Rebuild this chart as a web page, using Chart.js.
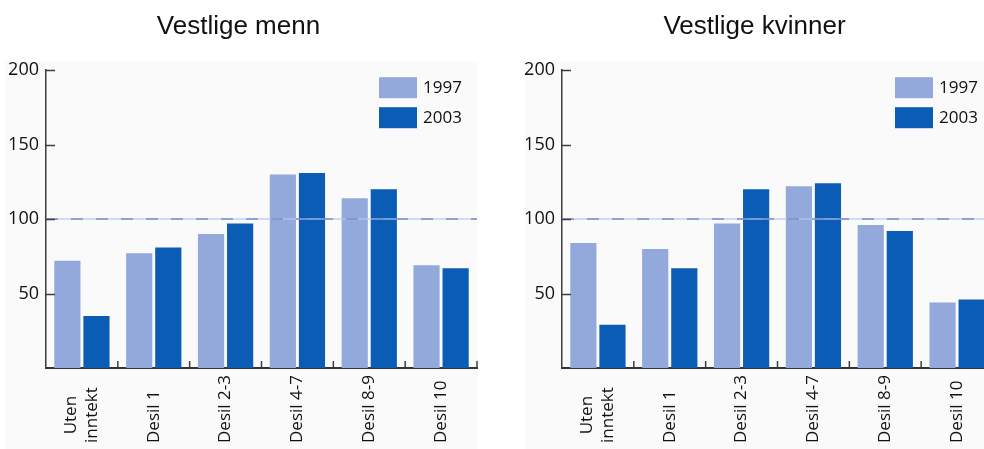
<!DOCTYPE html>
<html lang="no">
<head>
<meta charset="UTF-8">
<title>Vestlige menn / kvinner</title>
<script src="https://cdn.jsdelivr.net/npm/chart.js"></script>
<style>
    body { margin: 0; width: 984px; height: 449px; overflow: hidden; background: #fff; position: relative; }
    .panel { position: absolute; top: 62px; height: 387px; background: #fafafa; }
    canvas { position: absolute; top: 0; }
</style>
</head>
<body>
    <div class="panel" style="left:5px; width:473px"></div>
    <div class="panel" style="left:525px; width:459px"></div>
    <canvas id="menn" width="490" height="449" style="left:0"></canvas>
    <canvas id="kvinner" width="490" height="449" style="left:516px"></canvas>

<script>
    const kategorier = [['Uten', 'inntekt'], 'Desil 1', 'Desil 2-3', 'Desil 4-7', 'Desil 8-9', 'Desil 10'];
    const aar = ['1997', '2003'];
    const menn1997 = [72, 77, 90, 130, 114, 69];
    const menn2003 = [35, 81, 97, 131, 120, 67];
    const kvinner1997 = [84, 80, 97, 122, 96, 44];
    const kvinner2003 = [29, 67, 120, 124, 92, 46];
    const yTicks = [50, 100, 150, 200];
    const referanse = 100;

    const lys = '#93a8db';
    const mork = '#0a5cb4';
    const font = '"Open Sans", sans-serif';

    // dashed 100-line, inward ticks, rotated labels and legend
    const ekstra = {
        id: 'ekstra',
        afterDatasetsDraw(chart) {
            const ctx = chart.ctx, a = chart.chartArea, y = chart.scales.y;
            const py = y.getPixelForValue(referanse);
            ctx.save();
            ctx.lineWidth = 2;
            ctx.strokeStyle = 'rgba(180,200,238,0.6)';
            ctx.beginPath(); ctx.moveTo(a.left, py); ctx.lineTo(a.right, py); ctx.stroke();
            ctx.strokeStyle = 'rgba(120,135,195,0.7)';
            ctx.setLineDash([12, 13]);
            ctx.beginPath(); ctx.moveTo(a.left, py); ctx.lineTo(a.right, py); ctx.stroke();
            ctx.restore();
        },
        afterDraw(chart) {
            const ctx = chart.ctx, a = chart.chartArea, x = chart.scales.x, y = chart.scales.y;
            ctx.save();
            ctx.strokeStyle = '#3d3d3d';
            ctx.lineWidth = 1.5;
            yTicks.forEach(v => {
                const py = Math.round(y.getPixelForValue(v)) + 0.5;
                ctx.beginPath(); ctx.moveTo(a.left, py); ctx.lineTo(a.left + 9, py); ctx.stroke();
            });
            const n = chart.data.labels.length;
            for (let i = 0; i < n; i++) {
                const bx = i < n - 1 ? (x.getPixelForValue(i) + x.getPixelForValue(i + 1)) / 2 : a.right;
                ctx.beginPath(); ctx.moveTo(bx, a.bottom); ctx.lineTo(bx, a.bottom - 7); ctx.stroke();
            }

            // x labels, rotated, starting at the bottom
            ctx.fillStyle = '#111';
            ctx.font = '17px ' + font;
            ctx.textBaseline = 'middle';
            ctx.textAlign = 'left';
            chart.data.labels.forEach((lab, i) => {
                const lines = Array.isArray(lab) ? lab : [lab];
                const maxW = Math.max(...lines.map(l => ctx.measureText(l).width));
                ctx.save();
                ctx.translate(x.getPixelForValue(i), a.bottom + 75);
                ctx.rotate(-Math.PI / 2);
                lines.forEach((l, j) => {
                    const off = (j - (lines.length - 1) / 2) * 21;
                    ctx.fillText(l, (maxW - ctx.measureText(l).width) / 2, off);
                });
                ctx.restore();
            });

            // legend
            chart.data.datasets.forEach((ds, i) => {
                const lx = a.right - 98, ly = a.top + 7 + i * 30;
                ctx.fillStyle = ds.backgroundColor;
                ctx.fillRect(lx, ly, 38, 21);
                ctx.fillStyle = '#111';
                ctx.fillText(ds.label, lx + 44, ly + 11);
            });
            ctx.restore();
        }
    };

    function lagGraf(id, tittel, d1997, d2003) {
        return new Chart(document.getElementById(id), {
            type: 'bar',
            data: {
                labels: kategorier,
                datasets: [
                    { label: aar[0], data: d1997, backgroundColor: lys },
                    { label: aar[1], data: d2003, backgroundColor: mork }
                ]
            },
            options: {
                responsive: false,
                animation: false,
                categoryPercentage: 0.81,
                barPercentage: 0.9,
                layout: { padding: { left: 0, right: 13, top: 0, bottom: 0 } },
                plugins: {
                    legend: { display: false },
                    tooltip: { enabled: false },
                    title: {
                        display: true,
                        text: tittel,
                        color: '#111',
                        font: { family: '"Liberation Sans", Arial, sans-serif', size: 26, weight: 'normal' },
                        padding: { top: 11, bottom: 28 }
                    }
                },
                scales: {
                    x: {
                        grid: { display: false, drawTicks: false },
                        border: { display: true, color: '#333', width: 2 },
                        ticks: { display: false },
                        afterFit: s => { s.height = 81; }
                    },
                    y: {
                        min: 0,
                        max: 200,
                        grid: { display: false, drawTicks: false },
                        border: { display: true, color: '#3d3d3d', width: 1.5 },
                        ticks: {
                            stepSize: 50,
                            padding: 7,
                            color: '#111',
                            font: { family: font, size: 18 },
                            callback: v => yTicks.includes(v) ? v : ''
                        },
                        afterFit: s => { s.width = 46; }
                    }
                }
            },
            plugins: [ekstra]
        });
    }

    lagGraf('menn', 'Vestlige menn', menn1997, menn2003);
    lagGraf('kvinner', 'Vestlige kvinner', kvinner1997, kvinner2003);
</script>
</body>
</html>
